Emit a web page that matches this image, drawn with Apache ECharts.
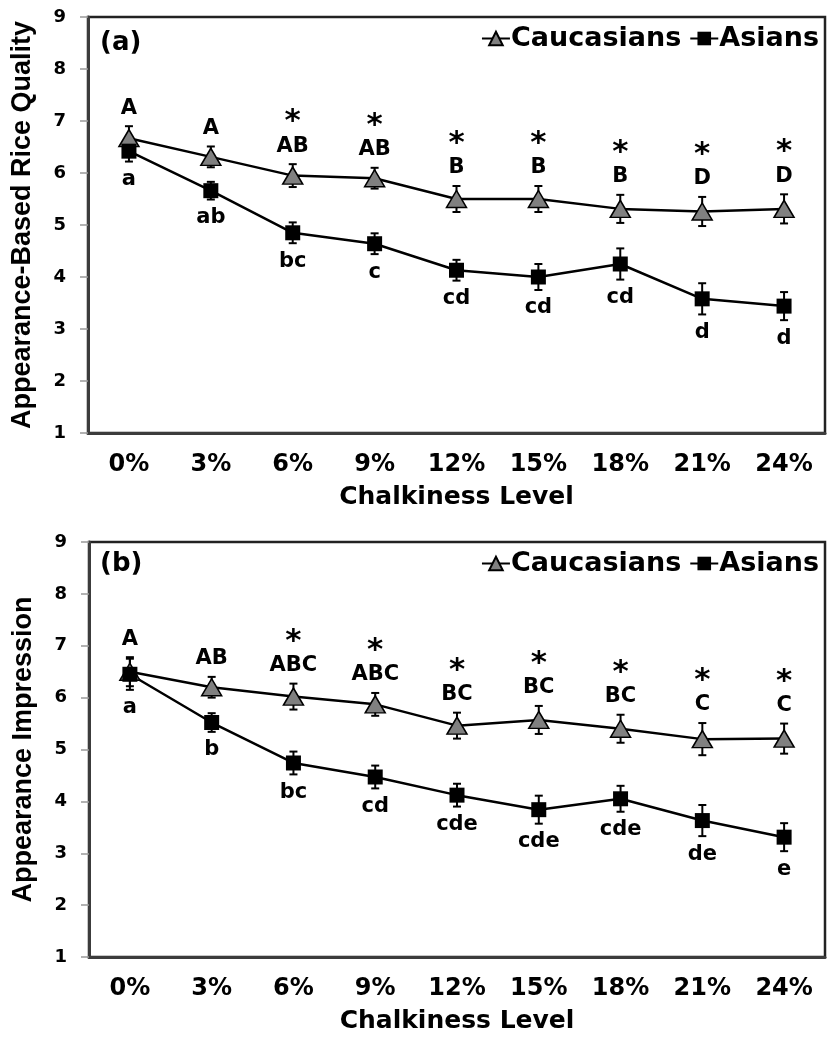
<!DOCTYPE html>
<html>
<head>
<meta charset="utf-8">
<script src="https://cdn.jsdelivr.net/npm/echarts@6/dist/echarts.min.js"></script>
<style>
  html, body { margin: 0; padding: 0; background: #fff; }
  #chart { width: 827px; height: 1037px; }
</style>
</head>
<body>
<div id="chart"></div>
<script>
// categories
const categories = ['0%', '3%', '6%', '9%', '12%', '15%', '18%', '21%', '24%'];
const yTicks = [1, 9];

// panel (a) - appearance-based rice quality
const qualityCau = [6.67, 6.31, 5.95, 5.9, 5.5, 5.5, 5.31, 5.26, 5.31];
const qualityCauErr = [0.23, 0.2, 0.22, 0.2, 0.25, 0.25, 0.27, 0.28, 0.28];
const qualityAsi = [6.42, 5.66, 4.85, 4.64, 4.13, 4.0, 4.25, 3.58, 3.44];
const qualityAsiErr = [0.2, 0.17, 0.2, 0.2, 0.2, 0.25, 0.3, 0.3, 0.27];
const qualityCauLetters = ['A', 'A', 'AB', 'AB', 'B', 'B', 'B', 'D', 'D'];
const qualityAsiLetters = ['a', 'ab', 'bc', 'c', 'cd', 'cd', 'cd', 'd', 'd'];
const qualityStars = [false, false, true, true, true, true, true, true, true];

// panel (b) - appearance impression
const impressionCau = [6.5, 6.2, 6.02, 5.87, 5.46, 5.57, 5.4, 5.2, 5.21];
const impressionCauErr = [0.28, 0.2, 0.25, 0.22, 0.25, 0.27, 0.27, 0.31, 0.29];
const impressionAsi = [6.45, 5.52, 4.74, 4.47, 4.12, 3.84, 4.05, 3.63, 3.31];
const impressionAsiErr = [0.3, 0.18, 0.22, 0.22, 0.22, 0.27, 0.25, 0.3, 0.27];
const impressionCauLetters = ['A', 'AB', 'ABC', 'ABC', 'BC', 'BC', 'BC', 'C', 'C'];
const impressionAsiLetters = ['a', 'b', 'bc', 'cd', 'cde', 'cde', 'cde', 'de', 'e'];
const impressionStars = [false, false, true, true, true, true, true, true, true];

const FONT = 'DejaVu Sans';
const chart = echarts.init(document.getElementById('chart'));

// error bars + significance letters drawn through the axes
const errorSeries = (idx, values, errs, letters, stars, above) => ({
  type: 'custom',
  xAxisIndex: idx,
  yAxisIndex: idx,
  silent: true,
  z: 1,
  data: values.map((v, i) => [i, v - errs[i], v + errs[i]]),
  renderItem: (params, api) => {
    const i = api.value(0);
    const lo = api.coord([i, api.value(1)]);
    const hi = api.coord([i, api.value(2)]);
    const cap = 4;
    const st = { stroke: '#000', lineWidth: 2 };
    const children = [
      { type: 'line', shape: { x1: lo[0], y1: lo[1], x2: hi[0], y2: hi[1] }, style: st },
      { type: 'line', shape: { x1: lo[0] - cap, y1: lo[1], x2: lo[0] + cap, y2: lo[1] }, style: st },
      { type: 'line', shape: { x1: hi[0] - cap, y1: hi[1], x2: hi[0] + cap, y2: hi[1] }, style: st }
    ];
    const k = params.dataIndex;
    const txt = (x, y, text, size) => ({
      type: 'text', x: x, y: y,
      style: { text: text, fontFamily: FONT, fontWeight: 'bold', fontSize: size, fill: '#000', align: 'center', verticalAlign: 'middle' }
    });
    if (above) {
      children.push(txt(hi[0], hi[1] - 18, letters[k], 21));
      if (stars[k]) children.push(txt(hi[0], hi[1] - 42, '*', 31));
    } else {
      children.push(txt(lo[0], lo[1] + 18, letters[k], 21));
    }
    return { type: 'group', children: children };
  }
});

const lineSeries = (idx, name, values) => ({
  name: name,
  type: 'line',
  xAxisIndex: idx,
  yAxisIndex: idx,
  data: values,
  z: 3,
  symbol: name === 'Caucasians' ? 'triangle' : 'rect',
  symbolSize: name === 'Caucasians' ? [20, 17] : 15,
  showAllSymbol: true,
  lineStyle: { color: '#000', width: 2.5 },
  itemStyle: name === 'Caucasians'
    ? { color: '#808080', borderColor: '#000', borderWidth: 1.5 }
    : { color: '#000' }
});

const xAxis = (idx) => ({
  gridIndex: idx,
  type: 'category',
  data: categories,
  axisLine: { lineStyle: { color: '#3c3c3c', width: 3 } },
  axisTick: { show: false },
  axisLabel: { fontFamily: FONT, fontWeight: 'bold', fontSize: 24, color: '#000', margin: 20 },
  name: 'Chalkiness Level',
  nameLocation: 'middle',
  nameGap: 52,
  nameTextStyle: { fontFamily: FONT, fontWeight: 'bold', fontSize: 25, color: '#000' }
});

const yAxis = (idx, name) => ({
  gridIndex: idx,
  type: 'value',
  min: yTicks[0],
  max: yTicks[1],
  interval: 1,
  axisLine: { show: true, lineStyle: { color: '#3c3c3c', width: 3 } },
  axisTick: { show: true, length: 8, lineStyle: { color: '#999', width: 1.5 } },
  axisLabel: { fontFamily: FONT, fontWeight: 'bold', fontSize: 18, color: '#000', margin: 22 },
  splitLine: { show: false },
  name: name,
  nameLocation: 'middle',
  nameGap: 52,
  nameTextStyle: { fontFamily: 'Liberation Sans', fontWeight: 'bold', fontSize: 27, color: '#000' }
});

const legend = (top) => ({
  top: top,
  right: 8,
  data: ['Caucasians', 'Asians'],
  itemWidth: 28,
  itemHeight: 17,
  itemGap: 8,
  padding: 0,
  textStyle: { fontFamily: FONT, fontWeight: 'bold', fontSize: 27, color: '#000', padding: [0, 0, 0, -4] }
});

const option = {
  animation: false,
  backgroundColor: '#fff',
  title: [
    { text: '(a)', left: 100, top: 30, padding: 0, textStyle: { fontFamily: FONT, fontWeight: 'bold', fontSize: 26, color: '#000' } },
    { text: '(b)', left: 100, top: 551, padding: 0, textStyle: { fontFamily: FONT, fontWeight: 'bold', fontSize: 26, color: '#000' } }
  ],
  legend: [legend(25), legend(550)],
  grid: [
    { left: 88, right: 2, top: 17, height: 416, show: true, borderColor: '#222', borderWidth: 2.5 },
    { left: 89, right: 2, top: 542, height: 415, show: true, borderColor: '#222', borderWidth: 2.5 }
  ],
  xAxis: [xAxis(0), xAxis(1)],
  yAxis: [yAxis(0, 'Appearance-Based Rice Quality'), yAxis(1, 'Appearance Impression')],
  series: [
    errorSeries(0, qualityCau, qualityCauErr, qualityCauLetters, qualityStars, true),
    errorSeries(0, qualityAsi, qualityAsiErr, qualityAsiLetters, qualityStars, false),
    lineSeries(0, 'Caucasians', qualityCau),
    lineSeries(0, 'Asians', qualityAsi),
    errorSeries(1, impressionCau, impressionCauErr, impressionCauLetters, impressionStars, true),
    errorSeries(1, impressionAsi, impressionAsiErr, impressionAsiLetters, impressionStars, false),
    lineSeries(1, 'Caucasians', impressionCau),
    lineSeries(1, 'Asians', impressionAsi)
  ]
};

chart.setOption(option);
</script>
</body>
</html>
